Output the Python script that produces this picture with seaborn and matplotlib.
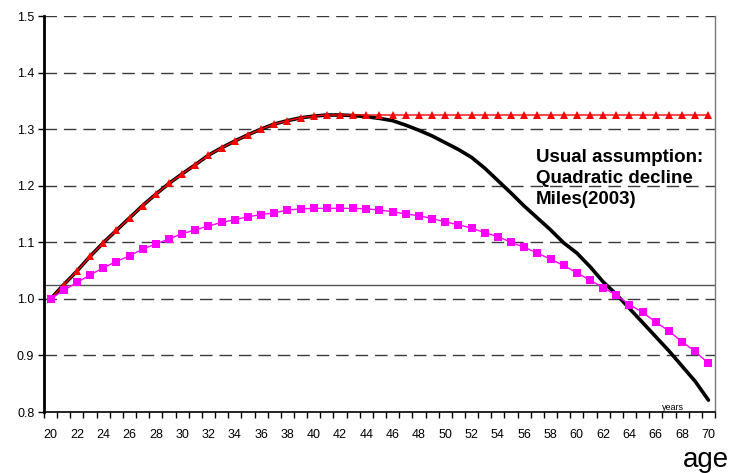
import matplotlib
matplotlib.use("Agg")
import matplotlib.pyplot as plt
from matplotlib.ticker import FixedLocator
import seaborn as sns
import pandas as pd
import numpy as np

sns.set_style("white")
plt.rcParams["font.family"] = ["Liberation Sans", "DejaVu Sans"]

ages = list(range(20, 71))

# productivity with a plateau after the peak
plateau = [1.000, 1.025, 1.049, 1.075, 1.099, 1.121, 1.143, 1.165, 1.185, 1.204,
           1.221, 1.237, 1.254, 1.267, 1.279, 1.290, 1.300, 1.309, 1.315, 1.320,
           1.323, 1.325, 1.325, 1.325, 1.325, 1.325, 1.325, 1.325, 1.325, 1.325,
           1.325, 1.325, 1.325, 1.325, 1.325, 1.325, 1.325, 1.325, 1.325, 1.325,
           1.325, 1.325, 1.325, 1.325, 1.325, 1.325, 1.325, 1.325, 1.325, 1.325,
           1.325]

# quadratic decline (Miles 2003)
quadratic = [1.000, 1.025, 1.049, 1.075, 1.099, 1.121, 1.143, 1.165, 1.185, 1.204,
             1.221, 1.237, 1.254, 1.267, 1.279, 1.290, 1.300, 1.309, 1.315, 1.320,
             1.323, 1.325, 1.325, 1.324, 1.322, 1.319, 1.315, 1.307, 1.298, 1.288,
             1.276, 1.264, 1.250, 1.231, 1.209, 1.187, 1.164, 1.143, 1.122, 1.099,
             1.081, 1.057, 1.030, 1.008, 0.983, 0.958, 0.933, 0.908, 0.881, 0.854,
             0.821]

# flatter hump-shaped profile
hump = [1.000, 1.015, 1.029, 1.042, 1.055, 1.066, 1.076, 1.088, 1.097, 1.106,
        1.115, 1.122, 1.129, 1.135, 1.140, 1.145, 1.149, 1.152, 1.157, 1.159,
        1.160, 1.160, 1.160, 1.160, 1.159, 1.157, 1.154, 1.150, 1.147, 1.142,
        1.136, 1.131, 1.125, 1.117, 1.110, 1.100, 1.091, 1.081, 1.070, 1.059,
        1.046, 1.033, 1.020, 1.006, 0.990, 0.976, 0.959, 0.943, 0.924, 0.907,
        0.886]

reference_level = 1.025
y_ticks = [0.8, 0.9, 1.0, 1.1, 1.2, 1.3, 1.4, 1.5]
x_ticks = list(range(20, 71, 2))

df = pd.DataFrame({"age": ages, "plateau": plateau,
                   "quadratic": quadratic, "hump": hump})

fig = plt.figure(figsize=(7.34, 4.73), dpi=100)
ax = fig.add_axes([44 / 734, 61 / 473, 671 / 734, 396 / 473])

ax.axhline(reference_level, color="#555555", lw=1.0, zorder=1)

sns.lineplot(data=df, x="age", y="quadratic", ax=ax, color="black", lw=2.6,
             zorder=3)
sns.lineplot(data=df, x="age", y="plateau", ax=ax, color="#ff0000", lw=1.0,
             marker="^", markersize=6, markeredgewidth=0, zorder=4)
sns.lineplot(data=df, x="age", y="hump", ax=ax, color="#ff00ff", lw=1.0,
             marker="s", markersize=5.5, markeredgewidth=0, zorder=4)

ax.set_xlim(19.5, 70.5)
ax.set_ylim(0.8, 1.5)
ax.set_xlabel("")
ax.set_ylabel("")

# dashed horizontal gridlines
for v in y_ticks[1:]:
    ax.axhline(v, color="#3a3a3a", lw=1.0, ls=(0, (9, 5)), zorder=0.5)

ax.yaxis.set_major_locator(FixedLocator(y_ticks))
ax.set_yticklabels([f"{v:.1f}" for v in y_ticks])
ax.xaxis.set_major_locator(FixedLocator(x_ticks))
ax.set_xticklabels([str(v) for v in x_ticks])
ax.xaxis.set_minor_locator(FixedLocator(np.arange(19.5, 71, 1.0)))

ax.tick_params(axis="x", which="major", length=0, labelsize=9, pad=12,
               colors="black")
ax.tick_params(axis="x", which="minor", length=4, width=1, direction="out",
               bottom=True, colors="black")
ax.tick_params(axis="y", which="major", length=4, width=1, direction="out",
               left=True, labelsize=9, pad=3, colors="black")

ax.spines["top"].set_visible(False)
ax.spines["left"].set_color("black")
ax.spines["left"].set_linewidth(2.0)
ax.spines["bottom"].set_color("black")
ax.spines["bottom"].set_linewidth(1.2)
ax.spines["right"].set_color("#777777")
ax.spines["right"].set_linewidth(1.0)

fig.text(536 / 734, 1 - 149 / 473,
         "Usual assumption:\nQuadratic decline\nMiles(2003)",
         fontsize=13.5, fontweight="bold", color="black",
         va="top", ha="left", linespacing=1.32)
fig.text(673 / 734, 66 / 473, "years", fontsize=6.5, color="black",
         ha="center", va="center")
fig.text(683 / 734, 6 / 473, "age", fontsize=20, color="black",
         ha="left", va="baseline")

fig.savefig("out.png", dpi=100)
